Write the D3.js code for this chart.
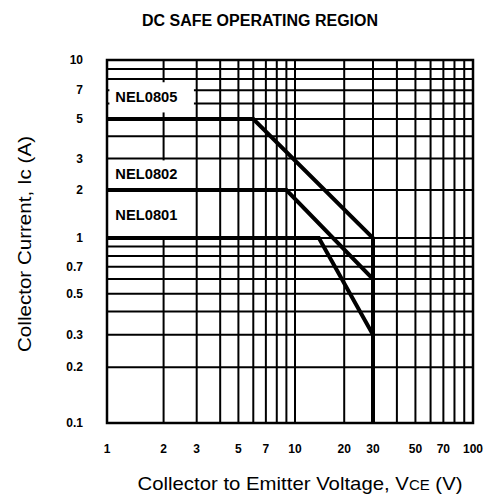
<!DOCTYPE html>
<html><head><meta charset="utf-8">
<script src="https://cdn.jsdelivr.net/npm/d3@7"></script>
<style>
body{margin:0;background:#fff;}
svg{display:block;font-family:"Liberation Sans",Arial,sans-serif;}
</style></head>
<body><svg id="c" width="492" height="496"></svg>
<script>
// ---- data ----
const xTickLabels = [1,2,3,5,7,10,20,30,50,70,100];
const yTickLabels = [0.1,0.2,0.3,0.5,0.7,1,2,3,5,7,10];
const xGrid = [1,2,3,4,5,6,7,8,9,10,20,30,40,50,60,70,80,90,100];
const yGrid = [0.1,0.2,0.3,0.4,0.5,0.6,0.7,0.8,0.9,1,2,3,4,5,6,7,8,9,10];
const seriesNames = ["NEL0805","NEL0802","NEL0801"];
const nel0805V = [1, 6, 30, 30];
const nel0805I = [5, 5, 1, 0.1];
const nel0802V = [1, 9, 30, 30];
const nel0802I = [2, 2, 0.6, 0.1];
const nel0801V = [1, 14, 30, 30];
const nel0801I = [1, 1, 0.3, 0.1];
// label anchor (V, A) and label box corners (V, A)
const labelV = [1.62, 1.62, 1.62];
const labelI = [6.45, 2.45, 1.4];
const boxV0 = [1.03, 1.03, 1.03];
const boxV1 = [2.9, 2.9, 2.9];
const boxI0 = [7.7, 2.93, 1.96];
const boxI1 = [5.4, 2.04, 1.02];

const svg = d3.select("#c");
const x = d3.scaleLog().domain([1,10,30,100]).range([107,295,373,473]);
const y = d3.scaleLog().domain([0.1,1,2,5,10]).range([423,238,190,119,60]);

// grid
const g = svg.append("g");
g.selectAll("line.vx").data(xGrid).join("line")
  .attr("x1",d=>x(d)).attr("x2",d=>x(d))
  .attr("y1",y(0.1)).attr("y2",y(10))
  .attr("stroke","#000").attr("stroke-width",2);
g.selectAll("line.hy").data(yGrid).join("line")
  .attr("y1",d=>y(d)).attr("y2",d=>y(d))
  .attr("x1",x(1)).attr("x2",x(100))
  .attr("stroke","#000").attr("stroke-width",2);

// label boxes (white, hide grid)
const boxes = seriesNames.map((n,i)=>({n,i}));
svg.selectAll("rect.lb").data(boxes).join("rect")
  .attr("x",d=>x(boxV0[d.i])).attr("width",d=>x(boxV1[d.i])-x(boxV0[d.i]))
  .attr("y",d=>y(boxI0[d.i])).attr("height",d=>y(boxI1[d.i])-y(boxI0[d.i]))
  .attr("fill","#fff");

// border
svg.append("rect").attr("x",x(1)).attr("y",y(10))
  .attr("width",x(100)-x(1)).attr("height",y(0.1)-y(10))
  .attr("fill","none").attr("stroke","#000").attr("stroke-width",2.5);

// series lines
const series = [
  {V:nel0805V,I:nel0805I},
  {V:nel0802V,I:nel0802I},
  {V:nel0801V,I:nel0801I}
];
const line = d3.line().x(d=>x(d[0])).y(d=>y(d[1]));
svg.selectAll("path.s").data(series).join("path")
  .attr("d",s=>line(s.V.map((v,k)=>[v,s.I[k]])))
  .attr("fill","none").attr("stroke","#000").attr("stroke-width",4)
  .attr("stroke-linejoin","miter");

// series labels
svg.selectAll("text.sl").data(boxes).join("text")
  .attr("x",d=>x(labelV[d.i])).attr("y",d=>y(labelI[d.i]))
  .attr("text-anchor","middle").attr("dominant-baseline","central")
  .attr("font-size",14).attr("font-weight","bold")
  .attr("textLength",62).attr("lengthAdjust","spacingAndGlyphs")
  .text(d=>d.n);

// tick labels
svg.selectAll("text.xt").data(xTickLabels).join("text")
  .attr("x",d=>x(d)).attr("y",449)
  .attr("text-anchor","middle").attr("dominant-baseline","central")
  .attr("font-size",12).attr("font-weight","bold").text(d=>d);
svg.selectAll("text.yt").data(yTickLabels).join("text")
  .attr("x",83).attr("y",d=>y(d))
  .attr("text-anchor","end").attr("dominant-baseline","central")
  .attr("font-size",12).attr("font-weight","bold").text(d=>d);

// title
svg.append("text").attr("x",260).attr("y",26).attr("text-anchor","middle")
  .attr("font-size",16).attr("font-weight","bold")
  .attr("textLength",236).attr("lengthAdjust","spacingAndGlyphs")
  .text("DC SAFE OPERATING REGION");

// axis titles
svg.append("text").attr("transform","translate(31,244) rotate(-90)")
  .attr("text-anchor","middle").attr("font-size",18)
  .attr("textLength",216).attr("lengthAdjust","spacingAndGlyphs")
  .text("Collector Current, Ic (A)");
const xt = svg.append("text").attr("x",300).attr("y",490).attr("text-anchor","middle")
  .attr("font-size",19)
  .attr("textLength",325).attr("lengthAdjust","spacingAndGlyphs");
xt.append("tspan").text("Collector to Emitter Voltage, V");
xt.append("tspan").attr("font-size",14).text("CE");
xt.append("tspan").text(" (V)");
</script>
</body></html>
